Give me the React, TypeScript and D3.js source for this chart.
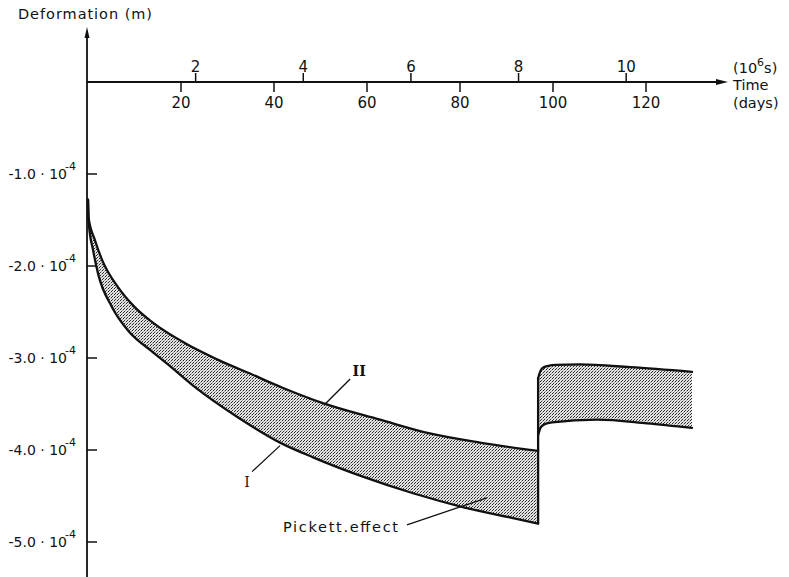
import React from 'react';
import * as d3 from 'd3';

const W = 789;
const H = 577;

// Deformation values are in units of 10^-4 m, time in days.
// Curve II: upper boundary of the band under sustained load
const curveIIDays = [0, 0.1, 1.5, 3.0, 6.45, 10.1, 13.8, 20.9, 28.0, 35.3, 41.7, 50.5, 62.8, 73.5, 84.3, 96.8];
const curveIIDef = [-1.28, -1.47, -1.72, -1.93, -2.23, -2.45, -2.61, -2.84, -3.02, -3.18, -3.32, -3.49, -3.67, -3.82, -3.92, -4.01];

// Curve I: lower boundary of the band under sustained load
const curveIDays = [0, 0.2, 1.1, 2.15, 5.2, 8.6, 13.8, 17.2, 22.6, 32.7, 41.3, 48.4, 59.1, 69.9, 80.6, 91.4, 96.8];
const curveIDef = [-1.28, -1.55, -1.83, -2.08, -2.45, -2.7, -2.93, -3.07, -3.3, -3.66, -3.92, -4.08, -4.29, -4.47, -4.62, -4.74, -4.8];

// After unloading
const unloadDay = 96.8;
const upperAfterDays = [96.8, 97.3, 98.0, 99.0, 100.5, 105.8, 116.6, 129.9];
const upperAfterDef = [-3.22, -3.14, -3.1, -3.085, -3.075, -3.07, -3.1, -3.15];
const lowerAfterDays = [96.8, 97.3, 98.2, 99.8, 109.5, 120.2, 129.9];
const lowerAfterDef = [-3.84, -3.76, -3.72, -3.7, -3.67, -3.71, -3.76];

const dayTicks = [20, 40, 60, 80, 100, 120];
const secTicks = [2, 4, 6, 8, 10]; // 10^6 s
const defTicks = [-1, -2, -3, -4, -5];

const FONT = "'DejaVu Sans', sans-serif";

type Pt = [number, number];
const zip = (a: number[], b: number[]): Pt[] => a.map((v, i) => [v, b[i]]);

export default function App() {
  const x = d3.scaleLinear().domain([0, 120]).range([88, 646]);
  const y = d3.scaleLinear().domain([0, -5]).range([82, 542]);
  const xSec = (s: number) => x((s * 1e6) / 86400);

  const curveII = zip(curveIIDays, curveIIDef);
  const curveI = zip(curveIDays, curveIDef);
  const upperAfter = zip(upperAfterDays, upperAfterDef);
  const lowerAfter = zip(lowerAfterDays, lowerAfterDef);

  const line = d3
    .line<Pt>()
    .x((d) => x(d[0]))
    .y((d) => y(d[1]))
    .curve(d3.curveMonotoneX);

  // region above a curve (used as clip) and below a curve (filled)
  const above = d3
    .area<Pt>()
    .x((d) => x(d[0]))
    .y0(0)
    .y1((d) => y(d[1]))
    .curve(d3.curveMonotoneX);
  const below = d3
    .area<Pt>()
    .x((d) => x(d[0]))
    .y0((d) => y(d[1]))
    .y1(H)
    .curve(d3.curveMonotoneX);

  const axisX = 87;
  const axisY = y(0);
  const xu = x(unloadDay);

  // label anchors on the curves (day, value)
  const labelII = { day: 51, def: -3.5 };
  const labelI = { day: 41.3, def: -3.92 };
  const labelPickett = { day: 85.8, def: -4.52 };

  const stroke = '#111';

  return (
    <svg
      width={W}
      height={H}
      viewBox={`0 0 ${W} ${H}`}
      style={{ position: 'absolute', left: 0, top: 0, background: '#fff' }}
    >
      <defs>
        <pattern id="stipple" width={3} height={3} patternUnits="userSpaceOnUse">
          <rect width={3} height={3} fill="#e4e4e4" />
          <rect x={0} y={0} width={1} height={1} fill="#222" />
          <rect x={1} y={2} width={1} height={1} fill="#333" />
          <rect x={2} y={1} width={1} height={1} fill="#9a9a9a" />
        </pattern>
        <clipPath id="clipBefore">
          <path d={above(curveI) || ''} />
        </clipPath>
        <clipPath id="clipAfter">
          <path d={above(lowerAfter) || ''} />
        </clipPath>
      </defs>

      {/* shaded bands */}
      <path d={below(curveII) || ''} fill="url(#stipple)" clipPath="url(#clipBefore)" />
      <path d={below(upperAfter) || ''} fill="url(#stipple)" clipPath="url(#clipAfter)" />

      {/* vertical axis */}
      <line x1={axisX} y1={34} x2={axisX} y2={H} stroke={stroke} strokeWidth={1.8} />
      <path d={`M${axisX},27 L${axisX - 2.5},38 L${axisX + 2.5},38 Z`} fill={stroke} />
      {defTicks.map((v) => (
        <g key={v}>
          <line x1={axisX} x2={axisX + 10} y1={y(v)} y2={y(v)} stroke={stroke} strokeWidth={1.5} />
          <text x={76} y={y(v) + 5} textAnchor="end" fontFamily={FONT} fontSize={14} fill={stroke}>
            {`-${Math.abs(v).toFixed(1)} · 10`}
            <tspan dx={-2} dy={-9} fontSize={11}>
              -4
            </tspan>
          </text>
        </g>
      ))}

      {/* time axis */}
      <line x1={axisX} y1={axisY} x2={718} y2={axisY} stroke={stroke} strokeWidth={1.8} />
      <path d={`M728,${axisY} L716,${axisY - 3} L716,${axisY + 3} Z`} fill={stroke} />
      {dayTicks.map((t) => (
        <g key={t}>
          <line x1={x(t)} x2={x(t)} y1={axisY} y2={axisY + 10} stroke={stroke} strokeWidth={1.5} />
          <text x={x(t)} y={108} textAnchor="middle" fontFamily={FONT} fontSize={15} fill={stroke}>
            {t}
          </text>
        </g>
      ))}
      {secTicks.map((s) => (
        <g key={s}>
          <line x1={xSec(s)} x2={xSec(s)} y1={axisY} y2={axisY - 9} stroke={stroke} strokeWidth={1.5} />
          <text x={xSec(s)} y={72} textAnchor="middle" fontFamily={FONT} fontSize={15} fill={stroke}>
            {s}
          </text>
        </g>
      ))}

      {/* axis titles */}
      <text x={18} y={19} fontFamily={FONT} fontSize={14.5} fill={stroke} textLength={134} lengthAdjust="spacing">
        Deformation (m)
      </text>
      <text x={733} y={73} fontFamily={FONT} fontSize={14.5} fill={stroke}>
        (10
        <tspan dy={-7} fontSize={11}>
          6
        </tspan>
        <tspan dy={7}>s)</tspan>
      </text>
      <text x={733} y={90} fontFamily={FONT} fontSize={14.5} fill={stroke}>
        Time
      </text>
      <text x={733} y={108} fontFamily={FONT} fontSize={14.5} fill={stroke}>
        (days)
      </text>

      {/* curves */}
      <g fill="none" stroke={stroke} strokeWidth={2.3} strokeLinejoin="round" strokeLinecap="round">
        <path d={line(curveII) || ''} />
        <path d={line(curveI) || ''} />
        <path d={line(upperAfter) || ''} />
        <path d={line(lowerAfter) || ''} />
        <line x1={xu} x2={xu} y1={y(curveIDef[curveIDef.length - 1])} y2={y(upperAfterDef[0])} />
      </g>

      {/* annotations */}
      <g stroke={stroke} strokeWidth={1.3}>
        <line x1={x(labelII.day)} y1={y(labelII.def)} x2={x(labelII.day) + 25} y2={y(labelII.def) - 25} />
        <line x1={x(labelI.day)} y1={y(labelI.def) + 3} x2={x(labelI.day) - 28} y2={y(labelI.def) + 29} />
        <line x1={x(labelPickett.day)} y1={y(labelPickett.def)} x2={x(labelPickett.day) - 80} y2={y(labelPickett.def) + 27} />
      </g>
      <text x={x(labelII.day) + 34} y={y(labelII.def) - 28} textAnchor="middle" fontFamily="'DejaVu Serif', serif" fontSize={14} fontWeight="bold" fill={stroke}>
        II
      </text>
      <text x={x(labelI.day) - 33} y={y(labelI.def) + 44} textAnchor="middle" fontFamily="'DejaVu Serif', serif" fontSize={14} fill={stroke}>
        I
      </text>
      <text x={283} y={y(labelPickett.def) + 34} fontFamily={FONT} fontSize={14.5} fill={stroke} textLength={115} lengthAdjust="spacing">
        Pickett.effect
      </text>
    </svg>
  );
}
